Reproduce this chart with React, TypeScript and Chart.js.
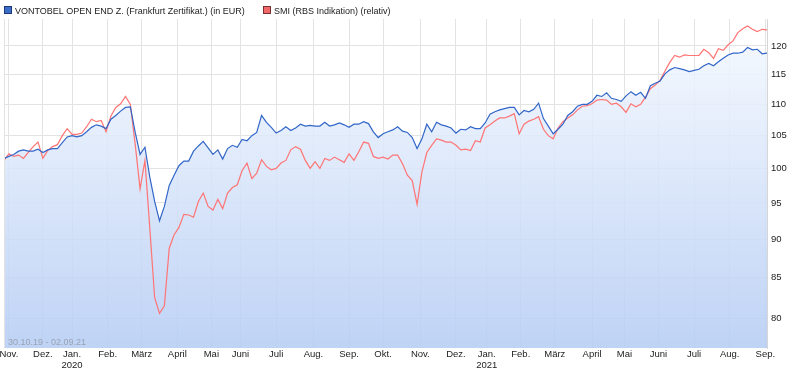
import React, { useEffect, useRef } from "react";
import { Chart, registerables } from "chart.js";

Chart.register(...registerables);

// one sample every 3 trading days, from 30.10.19 (index 0) to 02.09.21 (index 471)
const STEP = 3;
const LAST_INDEX = 471;

const legendNames = [
  "VONTOBEL OPEN END Z. (Frankfurt Zertifikat.) (in EUR)",
  "SMI (RBS Indikation) (relativ)",
];
const periodLabel = "30.10.19 - 02.09.21";

const vontobelValues = [
  101.5, 101.8, 102.1, 102.6, 102.8, 102.6, 102.6, 102.9, 102.4, 102.8,
  103.0, 103.0, 103.9, 104.8, 105.0, 104.8, 105.0, 105.6, 106.3, 106.7,
  106.5, 106.1, 107.6, 108.2, 108.9, 109.5, 109.6, 105.5, 102.1, 103.2,
  98.7, 95.2, 92.5, 94.5, 97.5, 99.0, 100.4, 101.1, 101.1, 102.6,
  103.4, 104.1, 103.1, 102.1, 102.8, 101.4, 103.0, 103.5, 103.2, 104.4,
  104.2, 105.0, 105.5, 108.2, 107.1, 106.3, 105.4, 105.8, 106.4, 105.8,
  106.2, 106.8, 106.5, 106.6, 106.5, 106.5, 107.1, 106.5, 106.7, 107.0,
  106.7, 106.3, 106.8, 106.8, 107.2, 106.9, 105.6, 104.7, 105.3, 105.6,
  105.9, 106.4, 105.7, 105.5, 104.7, 103.0, 104.5, 106.8, 105.6, 107.1,
  106.7, 106.5, 106.2, 105.4, 106.0, 105.9, 106.4, 106.1, 106.1, 107.0,
  108.4, 108.8, 109.1, 109.3, 109.5, 109.5, 108.3, 109.0, 108.8, 109.2,
  110.2, 107.7, 106.5, 105.3, 106.0, 106.8, 108.2, 108.8, 109.7, 110.0,
  110.0, 110.5, 111.5, 111.3, 111.9, 111.0, 110.8, 110.5, 111.4, 112.1,
  111.5, 112.0, 111.0, 113.1, 113.5, 113.9, 115.1, 115.8, 116.2, 116.0,
  115.8, 115.5, 115.7, 115.9, 116.5, 116.9, 116.5, 117.2, 117.8, 118.4,
  118.7, 118.7, 118.9, 119.7, 119.3, 119.4, 118.6, 118.7,
];

const smiValues = [
  101.2, 102.2, 101.8, 102.0, 101.5, 102.4, 103.3, 104.0, 101.5, 102.7,
  103.3, 103.6, 105.0, 106.1, 105.2, 105.2, 105.4, 106.4, 107.6, 107.2,
  107.4, 105.6, 108.1, 109.5, 110.1, 111.3, 110.0, 103.6, 97.0, 101.2,
  91.5, 82.5, 80.6, 81.5, 88.8, 90.6, 91.6, 93.4, 93.3, 93.0,
  95.2, 96.4, 94.5, 94.0, 95.5, 94.2, 96.4, 97.2, 97.6, 99.7,
  100.8, 98.5, 99.3, 101.3, 100.3, 99.8, 100.0, 100.8, 101.2, 102.8,
  103.3, 102.9, 101.2, 100.0, 101.0, 100.0, 101.5, 101.2, 101.7, 101.3,
  100.9, 102.2, 101.2, 102.5, 104.0, 103.8, 101.8, 101.5, 101.7, 101.4,
  102.0, 102.0, 100.7, 99.0, 98.2, 94.8, 99.5, 102.4, 103.5, 104.5,
  104.3, 104.0, 104.0, 103.5, 102.8, 102.9, 102.7, 104.2, 104.0, 106.2,
  106.7, 107.3, 107.8, 107.8, 108.1, 108.5, 105.3, 106.8, 107.3, 107.6,
  108.0, 106.0, 105.0, 104.5, 106.2, 107.2, 107.8, 108.3, 109.1, 109.7,
  109.8, 110.1, 110.7, 110.8, 110.7, 110.0, 110.2, 109.6, 108.7, 110.1,
  109.6, 110.0, 111.2, 112.6, 113.2, 114.0, 115.6, 117.1, 118.3, 118.0,
  118.4, 118.3, 118.3, 118.3, 119.4, 118.8, 117.8, 119.5, 119.2, 120.2,
  120.9, 122.4, 123.1, 123.6, 123.0, 122.6, 123.0, 122.9,
];

// trading-day index of the first trading day of each month
const monthTickIndex = [
  3, 24, 42, 64, 85, 107, 128, 146, 168, 191, 213, 234,
  257, 279, 298, 319, 340, 363, 383, 404, 426, 448, 470,
];
const monthLabels: (string | string[])[] = [
  "Nov.", "Dez.", ["Jan.", "2020"], "Feb.", "März", "April", "Mai", "Juni",
  "Juli", "Aug.", "Sep.", "Okt.", "Nov.", "Dez.", ["Jan.", "2021"], "Feb.",
  "März", "April", "Mai", "Juni", "Juli", "Aug.", "Sep.",
];
const yTickValues = [80, 85, 90, 95, 100, 105, 110, 115, 120];
const Y_MIN = 76.55;
const Y_MAX = 124.9;

const FONT = "'Liberation Sans', Arial, sans-serif";
const BLUE = "#3266c8";
const RED = "#ff7474";
const GRID = "#e3e3e3";

const overlayPlugin = {
  id: "overlay",
  afterDraw(chart: any) {
    const ctx = chart.ctx as CanvasRenderingContext2D;
    const ca = chart.chartArea;
    ctx.save();
    // left frame line
    ctx.strokeStyle = GRID;
    ctx.lineWidth = 1;
    ctx.beginPath();
    ctx.moveTo(ca.left + 0.5, ca.top);
    ctx.lineTo(ca.left + 0.5, ca.bottom);
    ctx.stroke();
    // legend
    ctx.font = `9px ${FONT}`;
    ctx.textBaseline = "alphabetic";
    const items = [
      { x: 4, fill: "#3a6cc8", stroke: "#1d3a78", text: legendNames[0] },
      { x: 263, fill: "#f06868", stroke: "#7a3030", text: legendNames[1] },
    ];
    items.forEach((it) => {
      ctx.fillStyle = it.fill;
      ctx.fillRect(it.x + 0.5, 6.5, 7, 7);
      ctx.strokeStyle = it.stroke;
      ctx.strokeRect(it.x + 0.5, 6.5, 7, 7);
      ctx.fillStyle = "#222";
      ctx.fillText(it.text, it.x + 11, 13.5);
    });
    // period text inside the plot
    ctx.fillStyle = "#98a2b4";
    ctx.fillText(periodLabel, ca.left + 4, ca.bottom - 3);
    ctx.restore();
  },
};

export default function App() {
  const canvasRef = useRef<HTMLCanvasElement | null>(null);

  useEffect(() => {
    const canvas = canvasRef.current;
    if (!canvas) return;
    const chart = new Chart(canvas, {
      type: "line",
      data: {
        datasets: [
          {
            label: legendNames[0],
            data: vontobelValues.map((v, i) => ({ x: i * STEP, y: v })),
            borderColor: BLUE,
            borderWidth: 1.2,
            pointRadius: 0,
            tension: 0,
            fill: "start",
            backgroundColor: (c: any) => {
              const ch = c.chart;
              const ca = ch.chartArea;
              if (!ca) return "rgba(200,218,248,0.8)";
              const g = ch.ctx.createLinearGradient(0, ca.top, 0, ca.bottom);
              g.addColorStop(0, "rgba(246,250,255,0.85)");
              g.addColorStop(1, "rgba(182,205,244,0.88)");
              return g;
            },
          },
          {
            label: legendNames[1],
            data: smiValues.map((v, i) => ({ x: i * STEP, y: v })),
            borderColor: RED,
            borderWidth: 1.2,
            pointRadius: 0,
            tension: 0,
            fill: false,
          },
        ],
      },
      options: {
        animation: false,
        responsive: false,
        maintainAspectRatio: false,
        layout: { padding: { left: 4, top: 19, right: 0, bottom: 0 } },
        plugins: {
          legend: { display: false },
          tooltip: { enabled: false },
          filler: { drawTime: "beforeDatasetsDraw" },
        } as any,
        scales: {
          x: {
            type: "linear",
            min: 0,
            max: LAST_INDEX,
            afterBuildTicks: (s: any) => {
              s.ticks = monthTickIndex.map((v) => ({ value: v }));
            },
            afterFit: (s: any) => {
              s.paddingLeft = 0;
              s.paddingRight = 0;
              s.height = 23;
            },
            ticks: {
              autoSkip: false,
              maxRotation: 0,
              padding: 1,
              color: "#222",
              font: { size: 9.5, family: FONT, lineHeight: 1.15 },
              callback: (_v: any, i: number) => monthLabels[i],
            },
            grid: { color: GRID, drawTicks: false },
            border: { display: false },
          },
          y: {
            type: "logarithmic",
            position: "right",
            min: Y_MIN,
            max: Y_MAX,
            afterBuildTicks: (s: any) => {
              s.ticks = yTickValues.map((v) => ({ value: v }));
            },
            afterFit: (s: any) => {
              s.width = 24;
            },
            ticks: {
              padding: 4,
              color: "#222",
              font: { size: 9.5, family: FONT },
              callback: (v: any) => String(v),
            },
            grid: { color: GRID, drawTicks: false },
            border: { display: true, color: "#d6d6d6" },
          },
        },
      } as any,
      plugins: [overlayPlugin],
    });
    return () => chart.destroy();
  }, []);

  return (
    <div style={{ position: "fixed", left: 0, top: 0, width: 791, height: 371, background: "#fff" }}>
      <canvas ref={canvasRef} width={791} height={371} style={{ display: "block", width: 791, height: 371 }} />
    </div>
  );
}
